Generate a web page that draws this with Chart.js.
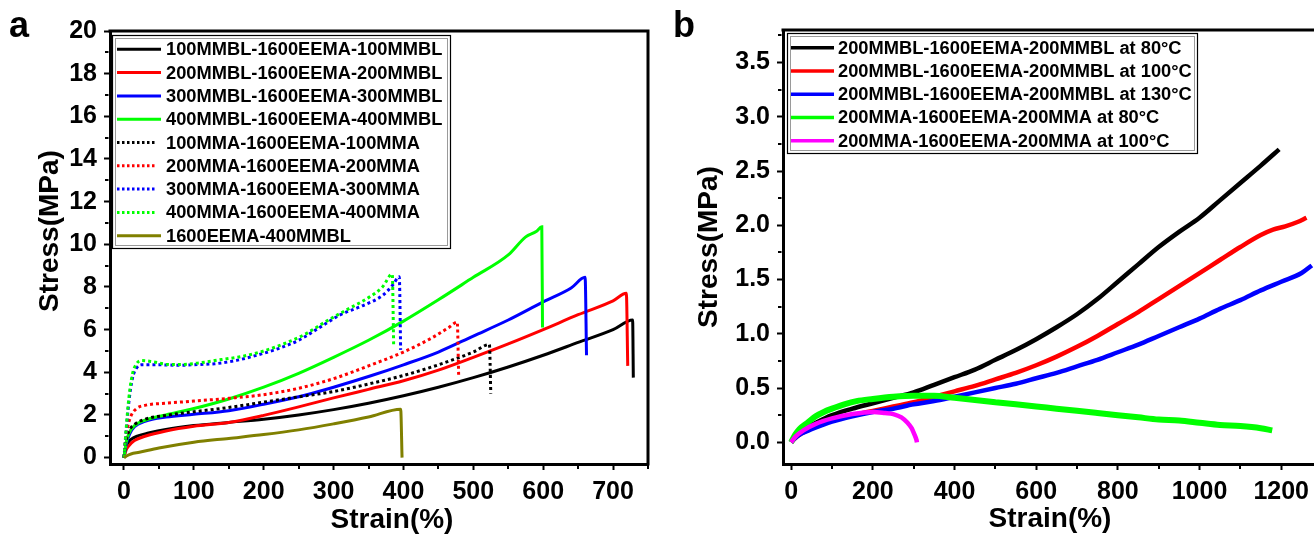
<!DOCTYPE html>
<html>
<head>
<meta charset="utf-8">
<script src="https://cdn.jsdelivr.net/npm/chart.js@4.4.1/dist/chart.umd.min.js"></script>
<style>
  html, body { margin: 0; padding: 0; background: #fff; overflow: hidden; width: 1314px; height: 535px; }
  #wrapA { position: absolute; left: 0; top: 0; width: 660px; height: 535px; }
  #wrapB { position: absolute; left: 660px; top: 0; width: 680px; height: 535px; }
</style>
</head>
<body>
<div id="wrapA"><canvas id="chartA" width="660" height="535"></canvas></div>
<div id="wrapB"><canvas id="chartB" width="680" height="535"></canvas></div>
<script>
// ---------------- Panel a data ----------------
const strainTicksA = [0, 100, 200, 300, 400, 500, 600, 700];
const strainMinorA = [50, 150, 250, 350, 450, 550, 650, 750];
const stressTicksA = [0, 2, 4, 6, 8, 10, 12, 14, 16, 18, 20];
const stressMinorA = [1, 3, 5, 7, 9, 11, 13, 15, 17, 19];

const labelsA = [
  '100MMBL-1600EEMA-100MMBL', '200MMBL-1600EEMA-200MMBL', '300MMBL-1600EEMA-300MMBL',
  '400MMBL-1600EEMA-400MMBL', '100MMA-1600EEMA-100MMA', '200MMA-1600EEMA-200MMA',
  '300MMA-1600EEMA-300MMA', '400MMA-1600EEMA-400MMA', '1600EEMA-400MMBL'
];

const mmbl100 = [[0,0],[2,0.4],[5,0.65],[10,0.85],[20,1.02],[35,1.15],[60,1.32],[100,1.5],[150,1.65],[200,1.8],[250,2.0],[300,2.25],[350,2.55],[400,2.9],[450,3.3],[500,3.75],[550,4.25],[600,4.8],[650,5.4],[700,6.0],[728,6.45],[729,3.75]];
const mmbl200 = [[0,0],[3,0.35],[7,0.55],[15,0.8],[30,1.0],[60,1.25],[100,1.47],[150,1.65],[200,1.98],[250,2.38],[300,2.8],[350,3.2],[400,3.6],[450,4.1],[500,4.7],[550,5.33],[600,6.0],[650,6.7],[700,7.35],[719,7.7],[721,4.3]];
const mmbl300 = [[0,0],[3,0.6],[8,1.1],[15,1.45],[30,1.7],[60,1.9],[100,2.03],[150,2.2],[200,2.5],[250,2.85],[300,3.3],[350,3.8],[400,4.35],[450,4.95],[500,5.7],[550,6.45],[600,7.3],[640,7.95],[660,8.45],[662,4.8]];
const mmbl400 = [[0,0],[3,0.7],[8,1.2],[15,1.5],[30,1.75],[60,2.0],[100,2.3],[150,2.75],[200,3.3],[250,3.95],[300,4.7],[350,5.5],[400,6.4],[450,7.4],[500,8.45],[550,9.5],[575,10.35],[590,10.6],[598,10.82],[599,6.1]];
const mma100 = [[0,0],[3,0.8],[8,1.3],[15,1.55],[30,1.8],[60,1.98],[100,2.15],[150,2.35],[200,2.6],[250,2.85],[300,3.1],[350,3.45],[400,3.85],[450,4.35],[500,4.95],[523,5.3],[525,3.0]];
const mma200 = [[0,0],[2,0.8],[5,1.4],[10,1.95],[18,2.3],[30,2.45],[60,2.55],[100,2.65],[150,2.78],[200,2.95],[250,3.25],[300,3.7],[350,4.3],[400,4.95],[440,5.6],[465,6.1],[477,6.35],[479,3.85]];
const mma300 = [[0,0],[3,1.2],[7,2.6],[12,3.7],[18,4.2],[25,4.35],[50,4.35],[80,4.33],[110,4.37],[130,4.4],[160,4.55],[190,4.8],[220,5.1],[250,5.5],[280,6.1],[310,6.7],[340,7.1],[370,7.6],[385,8.1],[394,8.48],[396,5.05]];
const mma400 = [[0,0],[3,1.3],[7,2.8],[12,3.9],[18,4.4],[25,4.55],[40,4.5],[60,4.38],[80,4.36],[110,4.45],[140,4.6],[170,4.75],[200,5.0],[230,5.35],[260,5.8],[290,6.4],[320,6.95],[350,7.5],[370,8.0],[384,8.6],[386,5.2]];
const eema1600 = [[0,0],[5,0.1],[10,0.17],[22,0.25],[50,0.45],[100,0.72],[150,0.9],[200,1.08],[250,1.3],[300,1.58],[350,1.9],[396,2.27],[398,0]];

const seriesA = [mmbl100, mmbl200, mmbl300, mmbl400, mma100, mma200, mma300, mma400, eema1600];
const colorsA = ['#000000', '#ff0000', '#0000ff', '#00ff00', '#000000', '#ff0000', '#0000ff', '#00ff00', '#808000'];
const dottedA = [false, false, false, false, true, true, true, true, false];

// ---------------- Panel b data ----------------
const strainTicksB = [0, 200, 400, 600, 800, 1000, 1200];
const strainMinorB = [100, 300, 500, 700, 900, 1100, 1300];
const stressTicksB = [0, 0.5, 1.0, 1.5, 2.0, 2.5, 3.0, 3.5];
const stressMinorB = [0.25, 0.75, 1.25, 1.75, 2.25, 2.75, 3.25, 3.75];

const labelsB = [
  '200MMBL-1600EEMA-200MMBL at 80°C', '200MMBL-1600EEMA-200MMBL at 100°C',
  '200MMBL-1600EEMA-200MMBL at 130°C', '200MMA-1600EEMA-200MMA at 80°C',
  '200MMA-1600EEMA-200MMA at 100°C'
];

const mmbl80 = [[0,0],[10,0.06],[25,0.11],[50,0.16],[100,0.25],[150,0.31],[200,0.36],[250,0.41],[300,0.46],[350,0.53],[400,0.6],[450,0.67],[500,0.76],[550,0.85],[600,0.95],[650,1.06],[700,1.18],[750,1.32],[800,1.48],[850,1.64],[900,1.8],[950,1.94],[1000,2.07],[1050,2.23],[1100,2.39],[1150,2.55],[1195,2.7]];
const mmbl100C = [[0,0],[10,0.04],[25,0.08],[50,0.13],[100,0.2],[150,0.25],[200,0.29],[250,0.33],[300,0.37],[350,0.42],[400,0.47],[450,0.52],[500,0.58],[550,0.64],[600,0.71],[650,0.79],[700,0.88],[750,0.98],[800,1.09],[850,1.2],[900,1.32],[950,1.44],[1000,1.56],[1050,1.68],[1100,1.8],[1150,1.91],[1180,1.96],[1210,1.99],[1240,2.03],[1262,2.07]];
const mmbl130 = [[0,0],[10,0.04],[25,0.08],[50,0.12],[100,0.19],[150,0.24],[200,0.28],[250,0.31],[300,0.35],[350,0.38],[400,0.42],[450,0.46],[500,0.5],[550,0.54],[600,0.59],[650,0.64],[700,0.7],[750,0.76],[800,0.83],[850,0.9],[900,0.98],[950,1.06],[1000,1.14],[1050,1.23],[1100,1.31],[1150,1.4],[1200,1.48],[1250,1.56],[1275,1.63]];
const mma80 = [[0,0],[10,0.07],[20,0.12],[40,0.18],[60,0.24],[80,0.28],[100,0.31],[130,0.35],[160,0.38],[200,0.4],[250,0.42],[300,0.43],[350,0.43],[400,0.41],[450,0.39],[500,0.37],[550,0.35],[600,0.33],[650,0.31],[700,0.29],[750,0.27],[800,0.25],[850,0.23],[900,0.21],[950,0.2],[1000,0.18],[1050,0.16],[1100,0.15],[1150,0.13],[1178,0.11]];
const mma100C = [[0,0],[10,0.05],[30,0.11],[60,0.17],[100,0.22],[150,0.26],[200,0.28],[230,0.27],[250,0.26],[270,0.23],[285,0.18],[295,0.13],[302,0.07],[307,0.02],[308,0.0]];

const seriesB = [mmbl80, mmbl100C, mmbl130, mma80, mma100C];
const colorsB = ['#000000', '#ff0000', '#0000ff', '#00ff00', '#ff00ff'];
const widthsB = [4.5, 4.5, 4.5, 6, 4.5];

// ---------------- Rendering ----------------
const FONT = '"Liberation Sans", Arial, Helvetica, sans-serif';
Chart.defaults.font.family = FONT;
Chart.defaults.color = '#000';

function makeDatasets(series, labels, colors, dotted, widths) {
  return series.map((pts, i) => ({
    label: labels[i],
    data: pts.map(p => ({ x: p[0], y: p[1] })),
    borderColor: colors[i],
    backgroundColor: colors[i],
    borderWidth: Array.isArray(widths) ? widths[i] : widths,
    borderDash: dotted && dotted[i] ? [3, 3] : [],
    borderCapStyle: 'butt',
    pointRadius: 0,
    fill: false,
    cubicInterpolationMode: 'monotone',
    order: -i
  }));
}

const decor = {
  id: 'decor',
  afterDraw(chart, args, o) {
    const { ctx, chartArea: ca, scales: { x, y } } = chart;
    ctx.save();
    // frame (top / right)
    ctx.strokeStyle = '#000';
    ctx.lineWidth = 3;
    ctx.beginPath();
    ctx.moveTo(ca.left - 1.5, ca.top);
    ctx.lineTo(o.rightFrame ? ca.right + 1.5 : chart.width, ca.top);
    if (o.rightFrame) {
      ctx.moveTo(ca.right, ca.top);
      ctx.lineTo(ca.right, ca.bottom + 1.5);
    }
    ctx.stroke();
    // minor ticks
    ctx.lineWidth = 2;
    ctx.beginPath();
    o.xMinor.forEach(v => {
      const px = Math.round(x.getPixelForValue(v));
      ctx.moveTo(px, ca.bottom + 1.5); ctx.lineTo(px, ca.bottom + 5);
    });
    o.yMinor.forEach(v => {
      const py = Math.round(y.getPixelForValue(v));
      ctx.moveTo(ca.left - 1.5, py); ctx.lineTo(ca.left - 5, py);
    });
    ctx.stroke();
    // legend
    const L = o.legend;
    ctx.lineWidth = 1.2;
    ctx.strokeStyle = '#000';
    ctx.strokeRect(L.x0, L.y0, L.x1 - L.x0, L.y1 - L.y0);
    ctx.strokeStyle = '#9a9a9a';
    ctx.lineWidth = 1;
    ctx.strokeRect(L.x0 + 3, L.y0 + 3, L.x1 - L.x0 - 6, L.y1 - L.y0 - 6);
    ctx.font = 'bold ' + L.fontSize + 'px ' + FONT;
    ctx.textBaseline = 'middle';
    ctx.textAlign = 'left';
    chart.data.datasets.forEach((d, i) => {
      const yy = L.rowY + i * L.rowH;
      const dotted = d.borderDash && d.borderDash.length;
      ctx.strokeStyle = d.borderColor;
      ctx.lineWidth = L.lineW;
      ctx.setLineDash(dotted ? [2.5, 2.5] : []);
      ctx.beginPath();
      ctx.moveTo(L.lx0, yy); ctx.lineTo(dotted ? L.lx1 - 6 : L.lx1, yy);
      ctx.stroke();
      ctx.setLineDash([]);
      ctx.fillStyle = '#000';
      ctx.fillText(d.label, L.tx, yy + 1);
    });
    // axis titles
    ctx.fillStyle = '#000';
    ctx.font = 'bold 28px ' + FONT;
    ctx.textAlign = 'center';
    ctx.textBaseline = 'alphabetic';
    ctx.fillText(o.xTitle, o.xTitleX, o.xTitleY);
    ctx.save();
    ctx.translate(o.yTitleX, o.yTitleY);
    ctx.rotate(-Math.PI / 2);
    ctx.fillText(o.yTitle, 0, 0);
    ctx.restore();
    // panel letter
    ctx.font = 'bold 36px ' + FONT;
    ctx.textAlign = 'left';
    ctx.fillText(o.letter, o.letterX, o.letterY);
    ctx.restore();
  }
};

function axisCfg(min, max, ticks, fmt, fitFn) {
  return {
    type: 'linear',
    min, max,
    afterBuildTicks: s => { s.ticks = ticks.map(v => ({ value: v })); },
    afterFit: fitFn,
    border: { display: true, color: '#000', width: 3 },
    grid: { display: true, drawOnChartArea: false, drawTicks: true, tickLength: 6, tickWidth: 2, tickColor: '#000' },
    ticks: { font: { size: 25, weight: 'bold' }, color: '#000', padding: 7, callback: fmt, maxRotation: 0, autoSkip: false }
  };
}

new Chart(document.getElementById('chartA'), {
  type: 'line',
  data: { datasets: makeDatasets(seriesA, labelsA, colorsA, dottedA, 3) },
  options: {
    responsive: false, animation: false, devicePixelRatio: 1,
    layout: { padding: { left: 0, right: 12, top: 31, bottom: 0 } },
    plugins: {
      legend: { display: false }, tooltip: { enabled: false },
      decor: {
        rightFrame: true, xMinor: strainMinorA, yMinor: stressMinorA,
        legend: { x0: 112.5, y0: 35.5, x1: 450.5, y1: 248.5, rowY: 49.3, rowH: 23.3, lx0: 117, lx1: 161, tx: 166, fontSize: 18.3, lineW: 3 },
        xTitle: 'Strain(%)', xTitleX: 392, xTitleY: 528,
        yTitle: 'Stress(MPa)', yTitleX: 58, yTitleY: 231,
        letter: 'a', letterX: 9, letterY: 37
      }
    },
    scales: {
      x: axisCfg(-20, 750, strainTicksA, v => String(v), s => { s.height = 71; }),
      y: axisCfg(-0.3, 20, stressTicksA, v => String(v), s => { s.width = 110; })
    }
  },
  plugins: [decor]
});

new Chart(document.getElementById('chartB'), {
  type: 'line',
  data: { datasets: makeDatasets(seriesB, labelsB, colorsB, null, widthsB) },
  options: {
    responsive: false, animation: false, devicePixelRatio: 1,
    layout: { padding: { left: 0, right: 0, top: 30, bottom: 0 } },
    plugins: {
      legend: { display: false }, tooltip: { enabled: false },
      decor: {
        rightFrame: false, xMinor: strainMinorB, yMinor: stressMinorB,
        legend: { x0: 127.5, y0: 33.5, x1: 537.5, y1: 153.5, rowY: 47.7, rowH: 23.25, lx0: 131, lx1: 174, tx: 178, fontSize: 18.3, lineW: 3.5 },
        xTitle: 'Strain(%)', xTitleX: 390, xTitleY: 527,
        yTitle: 'Stress(MPa)', yTitleX: 57, yTitleY: 247,
        letter: 'b', letterX: 13, letterY: 37
      }
    },
    scales: {
      x: axisCfg(-20, 1344, strainTicksB, v => String(v), s => { s.height = 71; }),
      y: axisCfg(-0.2, 3.8, stressTicksB, v => Number(v).toFixed(1), s => { s.width = 123; })
    }
  },
  plugins: [decor]
});
</script>
</body>
</html>
